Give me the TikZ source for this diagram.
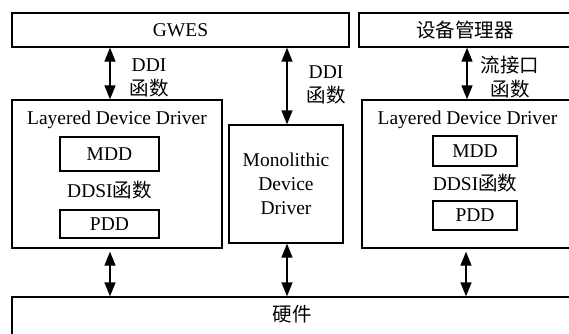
\documentclass[tikz,border=0pt]{standalone}
\usepackage{fontspec}
\setmainfont{Liberation Serif}
\newfontfamily\cjk{Noto Sans CJK SC}
\usetikzlibrary{arrows.meta}
\tikzset{
  box/.style={draw, line width=1.3pt, inner sep=0pt, fill=white},
  txt/.style={inner sep=0pt, font=\fontsize{19.5}{24}\selectfont, align=center},
  arr/.style={line width=1.3pt, {Triangle[width=11pt,length=14pt]}-{Triangle[width=11pt,length=14pt]}},
}
\begin{document}
\begin{tikzpicture}[x=1pt,y=-1pt]
\useasboundingbox (0,0) rectangle (569,333);
\clip (0,0) rectangle (569,333);
% top boxes
\node[box, minimum width=337pt, minimum height=34pt] (gwes) at (180.5,30) {};
\node[txt] (gwest) at (gwes.center) {GWES};
\node[box, minimum width=216pt, minimum height=34pt] (mgr) at (467,30) {};
\node[txt] (mgrt) at (465,30) {\cjk 设备管理器};
% left layered driver
\node[box, minimum width=210pt, minimum height=148pt] (ldd1) at (117,174) {};
\node[txt] (ldd1t) at (117,120) {Layered Device Driver};
\node[box, minimum width=99pt, minimum height=34pt, txt] (mdd1) at (109.5,154) {MDD};
\node[txt] (ddsi1) at (109.5,190) {DDSI{\cjk 函数}};
\node[box, minimum width=99pt, minimum height=28pt, txt] (pdd1) at (109.5,224) {PDD};
% monolithic
\node[box, minimum width=114pt, minimum height=118pt, txt] (mono) at (286,184) {Monolithic\\Device\\Driver};
% right layered driver
\node[box, minimum width=216pt, minimum height=148pt] (ldd2) at (470,174) {};
\node[txt] (ldd2t) at (467.5,120) {Layered Device Driver};
\node[box, minimum width=84pt, minimum height=30pt, txt] (mdd2) at (475,151) {MDD};
\node[txt] (ddsi2) at (475,183) {DDSI{\cjk 函数}};
\node[box, minimum width=84pt, minimum height=29pt, txt] (pdd2) at (475,215.5) {PDD};
% hardware
\node[box, minimum width=570pt, minimum height=50pt] (hw) at (297,322) {};
\node[txt] (hwt) at (292,314) {\cjk 硬件};
% arrow x positions
\coordinate (c1) at (110,0);
\coordinate (c2) at (287,0);
\coordinate (c3) at (467,0);
\coordinate (c4) at (466,0);
\draw[arr] (gwes.south -| c1) -- (ldd1.north -| c1);
\draw[arr] (gwes.south -| c2) -- (mono.north -| c2);
\draw[arr] (mgr.south -| c3) -- (ldd2.north -| c3);
\draw[arr, shorten <=3pt] (ldd1.south -| c1) -- (hw.north -| c1);
\draw[arr] (mono.south -| c2) -- (hw.north -| c2);
\draw[arr, shorten <=3pt] (ldd2.south -| c4) -- (hw.north -| c4);
% labels
\node[txt] (l1) at (149,78) {DDI\\{\cjk 函数}};
\node[txt] (l2) at (326,85) {DDI\\{\cjk 函数}};
\node[txt] (l3) at (510,77) {\cjk 流接口\\\cjk 函数};
\end{tikzpicture}
\end{document}
